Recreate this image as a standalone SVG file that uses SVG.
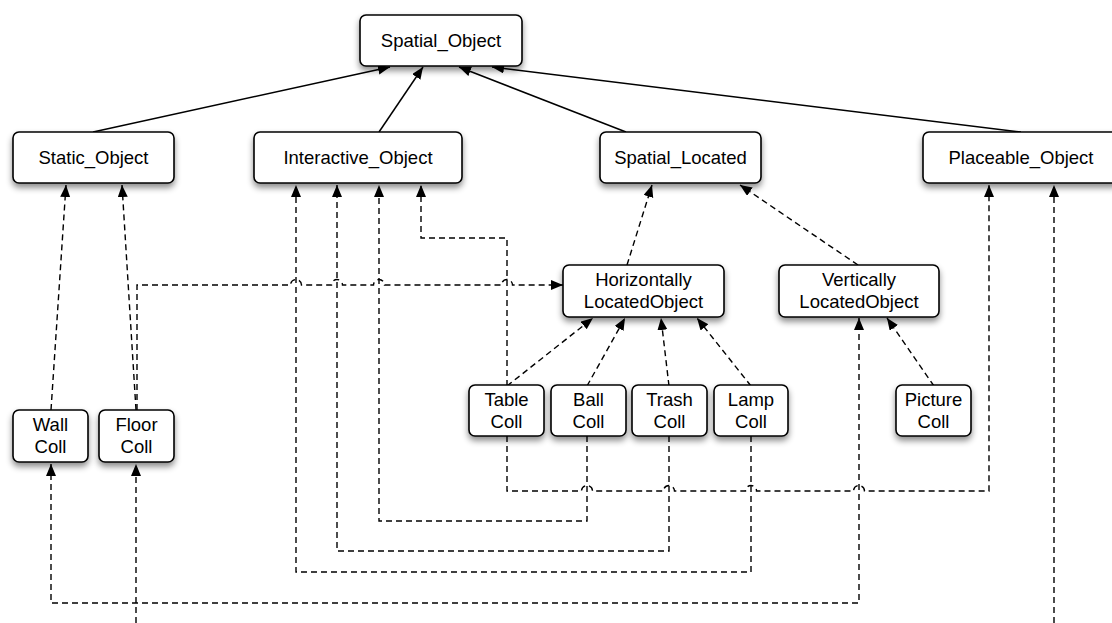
<svg xmlns="http://www.w3.org/2000/svg" width="1112" height="623" viewBox="0 0 1112 623">
<defs>
<filter id="sh" x="-20%" y="-20%" width="140%" height="160%">
<feDropShadow dx="0" dy="4" stdDeviation="3" flood-color="#000" flood-opacity="0.45"/>
</filter>
<marker id="ah" markerUnits="userSpaceOnUse" markerWidth="13" markerHeight="11" refX="12" refY="5" orient="auto">
<path d="M0,0 L12,5 L0,10 z" fill="#000"/>
</marker>
<marker id="as" markerUnits="userSpaceOnUse" markerWidth="13" markerHeight="11" refX="0" refY="5" orient="auto">
<path d="M12,0 L0,5 L12,10 z" fill="#000"/>
</marker>
</defs>
<style>
.box{fill:#fff;stroke:#000;stroke-width:1.6;filter:url(#sh)}
.t{font-family:"Liberation Sans",Arial,Helvetica,sans-serif;font-size:18.5px;fill:#000;text-anchor:middle}
.s{fill:none;stroke:#000;stroke-width:1.5;marker-end:url(#ah)}
.d{fill:none;stroke:#000;stroke-width:1.4;stroke-dasharray:6,4;marker-end:url(#ah)}
</style>
<g id="connectors">
<path class="s" d="M93,132 L390,67"/>
<path class="s" d="M379,132 L423,67"/>
<path class="s" d="M626,132 L459,67"/>
<path class="s" d="M1021,132 L492,67"/>
<path class="d" d="M51,410 L66,185"/>
<path class="d" d="M136,410 L122,185"/>
<path class="d" d="M137,410 L137,285 L290.5,285 A5.5,5.5 0 0 1 301.5,285 L331.5,285 A5.5,5.5 0 0 1 342.5,285 L373.5,285 A5.5,5.5 0 0 1 384.5,285 L501.5,285 A5.5,5.5 0 0 1 512.5,285 L563,285"/>
<path class="d" d="M507,386 L507,238 L421,238 L421,185"/>
<path class="d" d="M507,386 L593,318"/>
<path class="d" d="M507,436 L507,491 L581.5,491 A5.5,5.5 0 0 1 592.5,491 L663.5,491 A5.5,5.5 0 0 1 674.5,491 L745.5,491 A5.5,5.5 0 0 1 756.5,491 L853.5,491 A5.5,5.5 0 0 1 864.5,491 L989,491 L989,185"/>
<path class="d" d="M587,386 L625,318"/>
<path class="d" d="M587,436 L587,521 L379,521 L379,185"/>
<path class="d" d="M669,386 L661,318"/>
<path class="d" d="M669,436 L669,551 L337,551 L337,185"/>
<path class="d" d="M751,386 L697,318"/>
<path class="d" d="M751,436 L751,572 L296,572 L296,185"/>
<path class="d" d="M934,386 L887,318"/>
<path class="d" d="M627,265 L652,185"/>
<path class="d" d="M858,265 L740,185"/>
<path class="d" style="marker-start:url(#as)" d="M51,464 L51,603 L859,603 L859,318"/>
<path class="d" d="M136,623 L136,464"/>
<path class="d" d="M1054,623 L1054,185"/>
</g>
<g id="Spatial_Object"><rect class="box" x="360" y="15" width="162" height="51" rx="6"/><text class="t" x="441" y="46.5">Spatial_Object</text></g>
<g id="Static_Object"><rect class="box" x="13" y="132" width="161" height="51" rx="6"/><text class="t" x="93.5" y="163.5">Static_Object</text></g>
<g id="Interactive_Object"><rect class="box" x="254" y="132" width="208" height="51" rx="6"/><text class="t" x="358" y="163.5">Interactive_Object</text></g>
<g id="Spatial_Located"><rect class="box" x="600" y="132" width="161" height="51" rx="6"/><text class="t" x="680.5" y="163.5">Spatial_Located</text></g>
<g id="Placeable_Object"><rect class="box" x="923" y="132" width="196" height="51" rx="6"/><text class="t" x="1021" y="163.5">Placeable_Object</text></g>
<g id="HorizontallyLocatedObject"><rect class="box" x="563" y="265" width="161" height="52" rx="6"/><text class="t" x="643.5" y="286">Horizontally</text><text class="t" x="643.5" y="307.5">LocatedObject</text></g>
<g id="VerticallyLocatedObject"><rect class="box" x="779" y="265" width="160" height="52" rx="6"/><text class="t" x="859" y="286">Vertically</text><text class="t" x="859" y="307.5">LocatedObject</text></g>
<g id="WallColl"><rect class="box" x="13" y="410" width="75" height="52" rx="6"/><text class="t" x="50.5" y="431">Wall</text><text class="t" x="50.5" y="452.5">Coll</text></g>
<g id="FloorColl"><rect class="box" x="99" y="410" width="75" height="52" rx="6"/><text class="t" x="136.5" y="431">Floor</text><text class="t" x="136.5" y="452.5">Coll</text></g>
<g id="TableColl"><rect class="box" x="469" y="385" width="75" height="51" rx="6"/><text class="t" x="506.5" y="406">Table</text><text class="t" x="506.5" y="427.5">Coll</text></g>
<g id="BallColl"><rect class="box" x="551" y="385" width="75" height="51" rx="6"/><text class="t" x="588.5" y="406">Ball</text><text class="t" x="588.5" y="427.5">Coll</text></g>
<g id="TrashColl"><rect class="box" x="632" y="385" width="75" height="51" rx="6"/><text class="t" x="669.5" y="406">Trash</text><text class="t" x="669.5" y="427.5">Coll</text></g>
<g id="LampColl"><rect class="box" x="714" y="385" width="74" height="51" rx="6"/><text class="t" x="751" y="406">Lamp</text><text class="t" x="751" y="427.5">Coll</text></g>
<g id="PictureColl"><rect class="box" x="896" y="385" width="75" height="51" rx="6"/><text class="t" x="933.5" y="406">Picture</text><text class="t" x="933.5" y="427.5">Coll</text></g>
</svg>
